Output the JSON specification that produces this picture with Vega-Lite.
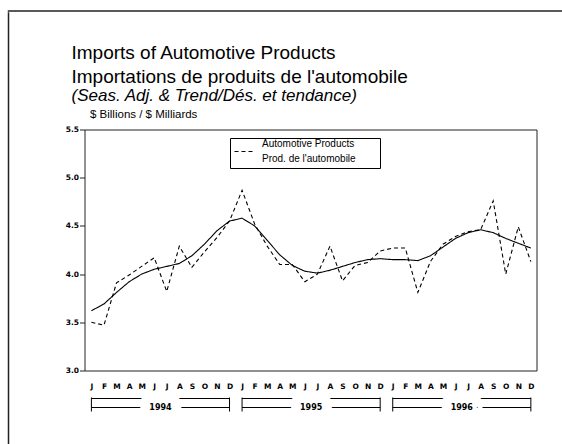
{
 "$schema": "https://vega.github.io/schema/vega-lite/v6.json",
 "background": "white",
 "padding": {"left": 7.5, "top": 10, "right": 0, "bottom": 0},
 "config": {"font": "Liberation Sans", "view": {"stroke": null}, "concat": {"spacing": 0}},
 "datasets": {
  "series": [
   {"m":0,"series":"Automotive Products","value":3.50},{"m":1,"series":"Automotive Products","value":3.47},
   {"m":2,"series":"Automotive Products","value":3.91},{"m":3,"series":"Automotive Products","value":3.99},
   {"m":4,"series":"Automotive Products","value":4.08},{"m":5,"series":"Automotive Products","value":4.17},
   {"m":6,"series":"Automotive Products","value":3.82},{"m":7,"series":"Automotive Products","value":4.29},
   {"m":8,"series":"Automotive Products","value":4.07},{"m":9,"series":"Automotive Products","value":4.23},
   {"m":10,"series":"Automotive Products","value":4.38},{"m":11,"series":"Automotive Products","value":4.55},
   {"m":12,"series":"Automotive Products","value":4.87},{"m":13,"series":"Automotive Products","value":4.52},
   {"m":14,"series":"Automotive Products","value":4.29},{"m":15,"series":"Automotive Products","value":4.10},
   {"m":16,"series":"Automotive Products","value":4.10},{"m":17,"series":"Automotive Products","value":3.92},
   {"m":18,"series":"Automotive Products","value":4.00},{"m":19,"series":"Automotive Products","value":4.29},
   {"m":20,"series":"Automotive Products","value":3.93},{"m":21,"series":"Automotive Products","value":4.09},
   {"m":22,"series":"Automotive Products","value":4.12},{"m":23,"series":"Automotive Products","value":4.24},
   {"m":24,"series":"Automotive Products","value":4.27},{"m":25,"series":"Automotive Products","value":4.27},
   {"m":26,"series":"Automotive Products","value":3.81},{"m":27,"series":"Automotive Products","value":4.13},
   {"m":28,"series":"Automotive Products","value":4.31},{"m":29,"series":"Automotive Products","value":4.39},
   {"m":30,"series":"Automotive Products","value":4.44},{"m":31,"series":"Automotive Products","value":4.46},
   {"m":32,"series":"Automotive Products","value":4.76},{"m":33,"series":"Automotive Products","value":4.00},
   {"m":34,"series":"Automotive Products","value":4.49},{"m":35,"series":"Automotive Products","value":4.13},
   {"m":0,"series":"Trend","value":3.62},{"m":1,"series":"Trend","value":3.69},
   {"m":2,"series":"Trend","value":3.81},{"m":3,"series":"Trend","value":3.92},
   {"m":4,"series":"Trend","value":4.00},{"m":5,"series":"Trend","value":4.05},
   {"m":6,"series":"Trend","value":4.08},{"m":7,"series":"Trend","value":4.11},
   {"m":8,"series":"Trend","value":4.19},{"m":9,"series":"Trend","value":4.31},
   {"m":10,"series":"Trend","value":4.45},{"m":11,"series":"Trend","value":4.55},
   {"m":12,"series":"Trend","value":4.58},{"m":13,"series":"Trend","value":4.50},
   {"m":14,"series":"Trend","value":4.35},{"m":15,"series":"Trend","value":4.20},
   {"m":16,"series":"Trend","value":4.09},{"m":17,"series":"Trend","value":4.03},
   {"m":18,"series":"Trend","value":4.01},{"m":19,"series":"Trend","value":4.04},
   {"m":20,"series":"Trend","value":4.08},{"m":21,"series":"Trend","value":4.12},
   {"m":22,"series":"Trend","value":4.15},{"m":23,"series":"Trend","value":4.16},
   {"m":24,"series":"Trend","value":4.15},{"m":25,"series":"Trend","value":4.15},
   {"m":26,"series":"Trend","value":4.14},{"m":27,"series":"Trend","value":4.19},
   {"m":28,"series":"Trend","value":4.28},{"m":29,"series":"Trend","value":4.37},
   {"m":30,"series":"Trend","value":4.43},{"m":31,"series":"Trend","value":4.46},
   {"m":32,"series":"Trend","value":4.43},{"m":33,"series":"Trend","value":4.37},
   {"m":34,"series":"Trend","value":4.32},{"m":35,"series":"Trend","value":4.27}
  ],
  "years": [
   {"year":"1994","start":0,"end":11,"mid":5.5},
   {"year":"1995","start":12,"end":23,"mid":17.5},
   {"year":"1996","start":24,"end":35,"mid":29.5}
  ]
 },
 "vconcat": [
  {"width": 600, "height": 0.01, "view": {"stroke": "#222", "strokeWidth": 1.5}, "data": {"values": []}, "mark": "point"},
  {"hconcat": [
    {"width": 0.01, "height": 440, "view": {"stroke": "#222", "strokeWidth": 1.5}, "data": {"values": []}, "mark": "point"},
    {"vconcat": [
      {"width": 1, "height": 1, "data": {"values": []}, "mark": "point"},
      {"vconcat": [
        {
         "width": 452, "height": 241,
         "view": {"stroke": "#222", "strokeWidth": 1},
         "title": {
          "text": ["Imports of Automotive Products", "Importations de produits de l'automobile"],
          "subtitle": "(Seas. Adj. & Trend/Dés. et tendance)",
          "anchor": "start", "frame": "group", "dx": -13,
          "font": "Liberation Sans", "fontSize": 19, "fontWeight": "normal", "color": "black", "lineHeight": 24,
          "subtitleFont": "Liberation Sans", "subtitleFontSize": 17, "subtitleFontStyle": "italic", "subtitleColor": "black", "subtitlePadding": 1,
          "offset": 4
         },
         "data": {"name": "series"},
         "mark": {"type": "line", "color": "black", "strokeWidth": 1.1},
         "encoding": {
          "x": {"field": "m", "type": "quantitative",
                "scale": {"domain": [-0.55, 35.45], "nice": false, "zero": false},
                "axis": {"values": [0,1,2,3,4,5,6,7,8,9,10,11,12,13,14,15,16,17,18,19,20,21,22,23,24,25,26,27,28,29,30,31,32,33,34,35],
                         "labelExpr": "['J','F','M','A','M','J','J','A','S','O','N','D'][datum.value % 12]",
                         "ticks": false, "domain": false, "grid": false, "title": null,
                         "labelFont": "DejaVu Sans", "labelFontWeight": "bold", "labelFontSize": 7.5, "labelColor": "black",
                         "labelPadding": 12, "labelAngle": 0, "labelFlush": false, "labelOverlap": false, "labelBound": false}},
          "y": {"field": "value", "type": "quantitative",
                "scale": {"domain": [3, 5.5], "nice": false, "zero": false},
                "axis": {"values": [3, 3.5, 4, 4.5, 5, 5.5], "format": ".1f", "grid": false, "domain": false,
                         "tickSize": 5, "tickColor": "#222",
                         "labelFont": "DejaVu Sans", "labelFontWeight": "bold", "labelFontSize": 7.5, "labelColor": "black", "labelPadding": 1,
                         "title": "$ Billions / $ Milliards", "titleAngle": 0, "titleAlign": "left", "titleBaseline": "alphabetic",
                         "titleX": 5, "titleY": -12.5, "titleFontSize": 11.5, "titleFontWeight": "normal", "titleFont": "Liberation Sans", "titleColor": "black"}},
          "strokeDash": {"field": "series", "type": "nominal",
                "scale": {"domain": ["Automotive Products", "Trend"], "range": [[4, 3], [1, 0]]},
                "legend": {"orient": "none", "legendX": 221.5, "legendY": 127,
                           "title": "\u00a0", "titleOrient": "right", "titlePadding": 20, "titleFontSize": 2,
                           "values": ["Automotive Products"],
                           "labelExpr": "['Automotive Products', \"Prod. de l'automobile\"]",
                           "strokeColor": "black", "padding": 4, "symbolType": "stroke", "symbolSize": 324,
                           "symbolStrokeColor": "black", "symbolStrokeWidth": 1,
                           "labelFont": "Liberation Sans", "labelFontSize": 10, "labelColor": "black", "labelLimit": 300, "labelOffset": 9,
                           "encode": {"labels": {"update": {"lineHeight": {"value": 15}, "dy": {"value": -7.5}}}}}}
         }
        },
        {
         "width": 452, "height": 14,
         "data": {"name": "years"},
         "encoding": {"x": {"field": "start", "type": "quantitative", "scale": {"domain": [-0.55, 35.45], "nice": false, "zero": false}, "axis": null}},
         "layer": [
          {"mark": {"type": "rule", "color": "black", "strokeWidth": 1},
           "encoding": {"x2": {"field": "end"}, "y": {"datum": 13, "type": "quantitative", "scale": {"domain": [0, 14], "nice": false, "zero": false}, "axis": null}}},
          {"mark": {"type": "rule", "color": "black", "strokeWidth": 1},
           "encoding": {"x2": {"field": "end"}, "y": {"datum": 4, "type": "quantitative"}}},
          {"mark": {"type": "rule", "color": "black", "strokeWidth": 1},
           "encoding": {"y": {"datum": 0, "type": "quantitative"}, "y2": {"datum": 14}}},
          {"mark": {"type": "rule", "color": "black", "strokeWidth": 1},
           "encoding": {"x": {"field": "end", "type": "quantitative"}, "y": {"datum": 0, "type": "quantitative"}, "y2": {"datum": 14}}},
          {"mark": {"type": "text", "font": "DejaVu Sans", "fontWeight": "bold", "fontSize": 8, "fill": "white", "stroke": "white", "strokeWidth": 20, "strokeJoin": "round", "baseline": "middle", "align": "center"},
           "encoding": {"x": {"field": "mid", "type": "quantitative"}, "y": {"datum": 4, "type": "quantitative"}, "text": {"field": "year"}}},
          {"mark": {"type": "text", "font": "DejaVu Sans", "fontWeight": "bold", "fontSize": 8, "color": "black", "baseline": "middle", "align": "center"},
           "encoding": {"x": {"field": "mid", "type": "quantitative"}, "y": {"datum": 4, "type": "quantitative"}, "text": {"field": "year"}}}
         ]
        }
       ], "spacing": 6}
    ], "spacing": 29.5}
  ], "spacing": 55}
 ]
}
